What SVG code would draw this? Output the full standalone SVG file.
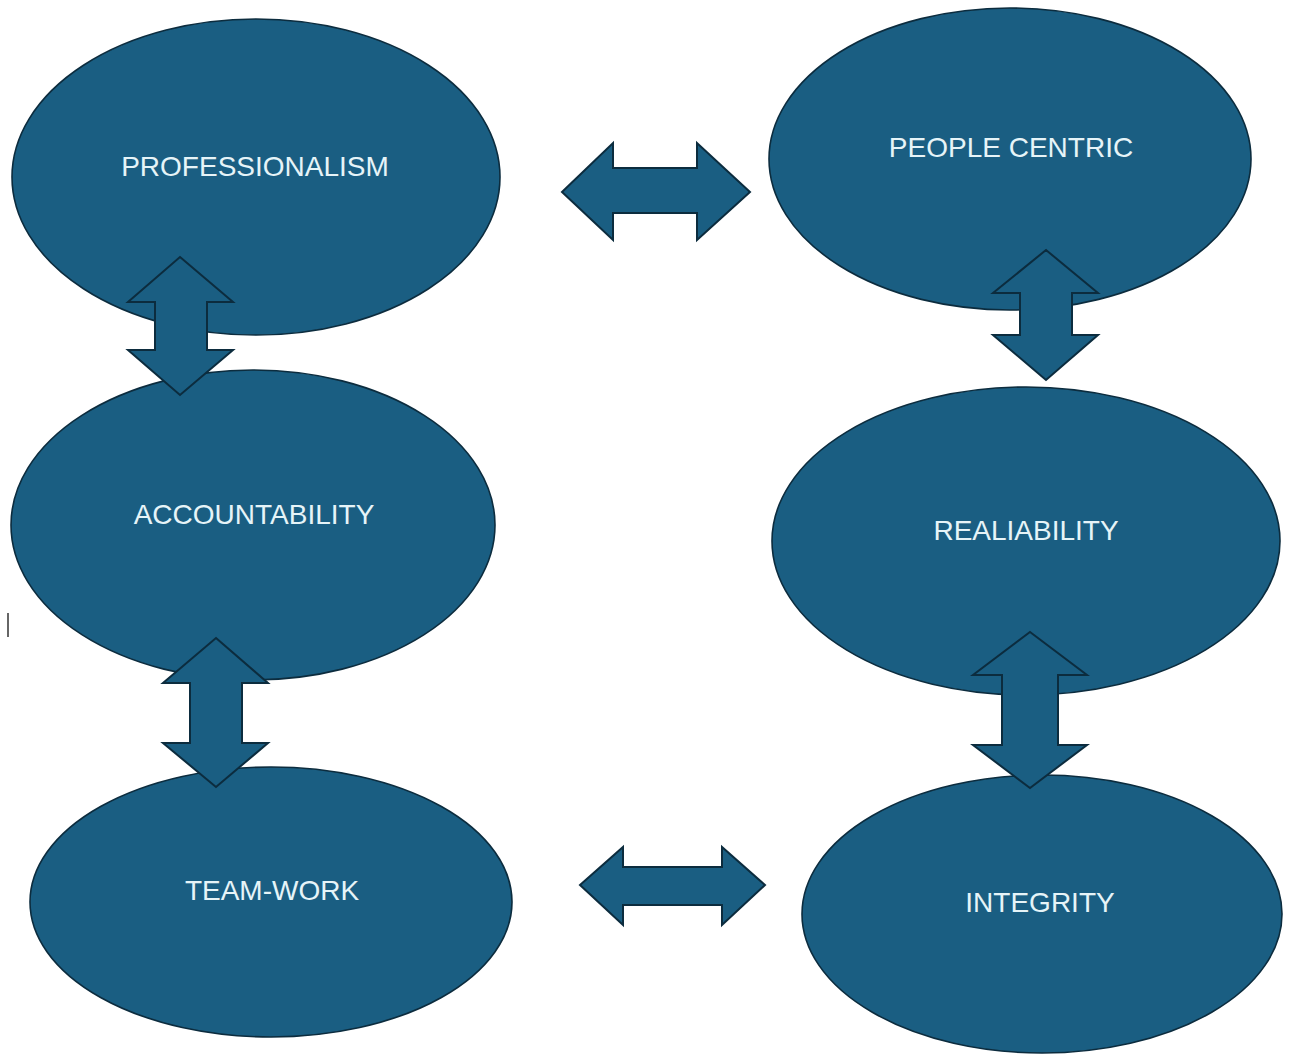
<svg xmlns="http://www.w3.org/2000/svg" width="1294" height="1054" viewBox="0 0 1294 1054">
<style>
.node{fill:#1a5e82;stroke:#0c2c3e;stroke-width:1.6}
.arr{fill:#1a5e82;stroke:#0c2c3e;stroke-width:2;stroke-linejoin:miter}
.lbl{fill:#e6f4f8;font-family:"Liberation Sans","DejaVu Sans",sans-serif;font-size:28px;text-anchor:middle}
</style>
<rect width="1294" height="1054" fill="#ffffff"/>
<g id="professionalism"><ellipse class="node" cx="256" cy="177" rx="244" ry="158"/><text class="lbl" x="255" y="176">PROFESSIONALISM</text></g>
<g id="people-centric"><ellipse class="node" cx="1010" cy="159" rx="241" ry="151"/><text class="lbl" x="1011" y="157">PEOPLE CENTRIC</text></g>
<g id="accountability"><ellipse class="node" cx="253" cy="525" rx="242" ry="155"/><text class="lbl" x="254" y="524">ACCOUNTABILITY</text></g>
<g id="realiability"><ellipse class="node" cx="1026" cy="541" rx="254" ry="154"/><text class="lbl" x="1026" y="540">REALIABILITY</text></g>
<g id="team-work"><ellipse class="node" cx="271" cy="902" rx="241" ry="135"/><text class="lbl" x="272" y="900">TEAM-WORK</text></g>
<g id="integrity"><ellipse class="node" cx="1042" cy="914" rx="240" ry="139"/><text class="lbl" x="1040" y="912">INTEGRITY</text></g>
<g id="connectors">
<polygon class="arr" points="180,257 233,302 207,302 207,350 233,350 180,395 128,350 155,350 155,302 128,302"/>
<polygon class="arr" points="1046,250 1098,293 1072,293 1072,335 1098,335 1046,380 993,335 1020,335 1020,293 993,293"/>
<polygon class="arr" points="216,638 268,683 242,683 242,743 268,743 216,787 163,743 190,743 190,683 163,683"/>
<polygon class="arr" points="1030,632 1087,675 1058,675 1058,745 1087,745 1030,788 973,745 1002,745 1002,675 973,675"/>
<polygon class="arr" points="562,192 613,143 613,168 697,168 697,143 750,192 697,240 697,213 613,213 613,240"/>
<polygon class="arr" points="580,885 623,847 623,867 722,867 722,847 765,885 722,925 722,905 623,905 623,925"/>
</g>
<line x1="8" y1="613" x2="8" y2="637" stroke="#333333" stroke-width="1.5"/>
</svg>
